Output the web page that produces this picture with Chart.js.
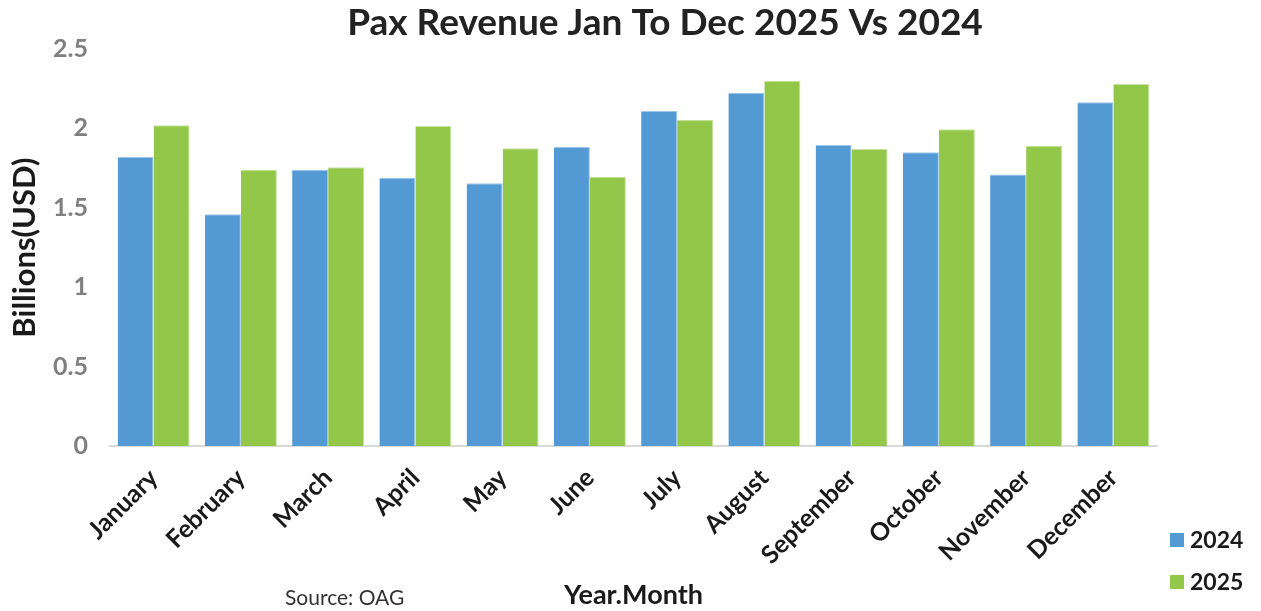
<!DOCTYPE html>
<html>
<head>
<meta charset="utf-8">
<title>Pax Revenue Jan To Dec 2025 Vs 2024</title>
<script src="https://cdn.jsdelivr.net/npm/chart.js@4.4.1/dist/chart.umd.min.js"></script>
<style>
  html, body { margin: 0; padding: 0; background: #fff; }
  #wrap { position: relative; width: 1261px; height: 611px; }
</style>
</head>
<body>
<div id="wrap"><canvas id="chart" width="1261" height="611"></canvas></div>
<script>
// monthly passenger revenue, billions of USD
const months = ['January', 'February', 'March', 'April', 'May', 'June',
  'July', 'August', 'September', 'October', 'November', 'December'];
const rev2024 = [1.82, 1.46, 1.74, 1.69, 1.655, 1.885, 2.11, 2.225, 1.895, 1.85, 1.71, 2.165];
const rev2025 = [2.02, 1.74, 1.755, 2.015, 1.875, 1.695, 2.055, 2.30, 1.87, 1.995, 1.89, 2.28];
const yTicks = [0, 0.5, 1, 1.5, 2, 2.5];

const chartTitle = 'Pax Revenue Jan To Dec 2025 Vs 2024';
const sourceNote = 'Source: OAG';

const BLUE = '#5399d4';
const GREEN = '#92c749';
const FONT = 'Lato, "Open Sans", sans-serif';

// title, legend in the bottom-right corner and the source note
const extras = {
  id: 'extras',
  afterDraw(chart) {
    const ctx = chart.ctx;
    ctx.save();
    ctx.textBaseline = 'middle';

    ctx.textAlign = 'center';
    ctx.fillStyle = '#222';
    ctx.font = 'bold 37px ' + FONT;
    ctx.fillText(chartTitle, 665, 23);

    ctx.textAlign = 'left';
    chart.data.datasets.forEach((ds, i) => {
      const y = 540 + i * 42;
      ctx.fillStyle = ds.backgroundColor;
      ctx.fillRect(1170, y - 7, 14, 14);
      ctx.fillStyle = '#1a1a1a';
      ctx.font = 'bold 23px ' + FONT;
      ctx.fillText(ds.label, 1190, y + 1);
    });

    ctx.fillStyle = '#333';
    ctx.font = '21px ' + FONT;
    ctx.fillText(sourceNote, 285, 598);
    ctx.restore();
  }
};

new Chart(document.getElementById('chart'), {
  type: 'bar',
  data: {
    labels: months,
    datasets: [
      { label: '2024', data: rev2024, backgroundColor: BLUE, borderColor: '#9fc6ea', borderWidth: { top: 1, right: 1, left: 0, bottom: 0 } },
      { label: '2025', data: rev2025, backgroundColor: GREEN, borderColor: '#c6e2a0', borderWidth: { top: 1, right: 1, left: 0, bottom: 0 } }
    ]
  },
  options: {
    responsive: false,
    animation: false,
    layout: { padding: { left: 0, right: 104, top: 49, bottom: 0 } },
    datasets: { bar: { categoryPercentage: 0.825, barPercentage: 1.0 } },
    plugins: {
      legend: { display: false },
      tooltip: { enabled: false },
      title: { display: false }
    },
    scales: {
      x: {
        grid: { display: false, drawTicks: false },
        border: { display: true, color: '#d9d9d9', width: 2 },
        ticks: {
          color: '#1a1a1a',
          font: { family: FONT, size: 25, weight: 'bold' },
          minRotation: 45,
          maxRotation: 45,
          padding: 17,
          autoSkip: false
        },
        title: {
          display: true,
          text: 'Year.Month',
          color: '#1a1a1a',
          font: { family: FONT, size: 27, weight: 'bold' },
          padding: { top: 0, bottom: 0 }
        },
        afterFit(scale) { scale.height = 165; }
      },
      y: {
        min: 0,
        max: 2.5,
        afterBuildTicks(scale) { scale.ticks = yTicks.map(v => ({ value: v })); },
        grid: { display: false, drawTicks: false },
        border: { display: false },
        ticks: {
          color: '#7f7f7f',
          font: { family: FONT, size: 25, weight: 'bold' },
          padding: 22,
          callback: v => String(v)
        },
        title: {
          display: true,
          text: 'Billions(USD)',
          color: '#1a1a1a',
          font: { family: FONT, size: 31, weight: 'bold' },
          padding: { top: 6, bottom: 0 }
        },
        afterFit(scale) { scale.width = 110; }
      }
    }
  },
  plugins: [extras]
});
</script>
</body>
</html>
